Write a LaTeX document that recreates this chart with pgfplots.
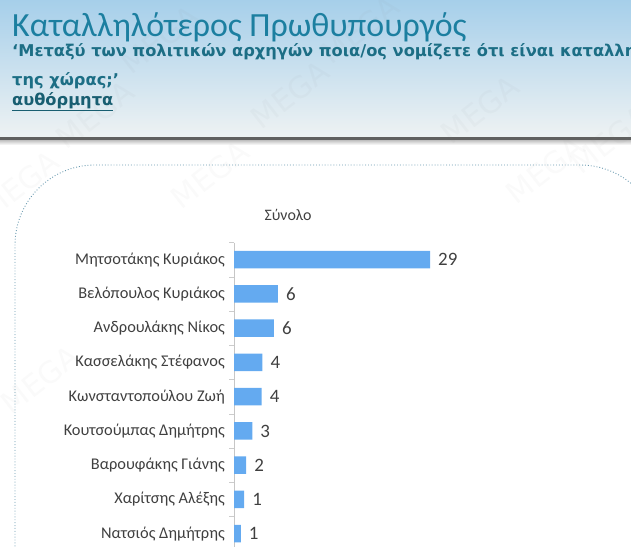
\documentclass[border=0pt]{standalone}
\usepackage{fontspec}
\setmainfont{Carlito}
\newfontfamily\verd{DejaVu Sans}
\usepackage{pgfplots}
\pgfplotsset{compat=1.18}
\definecolor{barblue}{HTML}{64AAF0}
\definecolor{titleteal}{HTML}{1C7FA0}
\definecolor{subteal}{HTML}{1C6E85}
\definecolor{hdrtop}{HTML}{A6CFEA}
\definecolor{hdrbot}{HTML}{EEF2F3}
\definecolor{borderc}{HTML}{6A9AB0}
\definecolor{lbl}{HTML}{404040}
\begin{document}
\begin{tikzpicture}[x=1bp,y=1bp]
\useasboundingbox (0,0) rectangle (631,547);
\coordinate (A) at (234,-3.8);
\begin{scope}
\clip (0,0) rectangle (631,547);
% header
\shade[top color=hdrtop, bottom color=hdrbot] (0,547) rectangle (631,410);
\fill[gray!75!black] (0,410) rectangle (631,406.5);
\shade[top color=gray!45, bottom color=white] (0,406.5) rectangle (631,402);
% watermarks
\foreach \px/\py in {95/115, 290/95, 480/110, 610/140, 20/185, 210/175, 545/170, 40/380, 160/40, 360/30}
  \node[rotate=38, text=gray, opacity=0.045, font=\verd\fontsize{30}{30}\selectfont] at (\px,547-\py) {MEGA};
% titles
\node[anchor=base west, inner sep=0pt, text=titleteal, font=\fontsize{34}{34}\selectfont] at (12,547-37) {Καταλληλότερος Πρωθυπουργός};
\node[anchor=base west, inner sep=0pt, text=subteal, font=\verd\bfseries\fontsize{16.3}{16.3}\selectfont] at (12,547-57) {‘Μεταξύ των πολιτικών αρχηγών ποια/ος νομίζετε ότι είναι καταλληλότερος για πρωθυπουργός};
\node[anchor=base west, inner sep=0pt, text=subteal, font=\verd\bfseries\fontsize{16.3}{16.3}\selectfont] at (12,547-86) {της χώρας;’};
\node[anchor=base west, inner sep=0pt, text=subteal!85!black, font=\verd\bfseries\fontsize{16.3}{16.3}\selectfont] (au) at (12,547-106) {αυθόρμητα};
\draw[subteal!85!black, line width=1bp] ([yshift=-4.5bp]au.base west) -- ([yshift=-4.5bp]au.base east);
% dotted border
\draw[dotted, borderc, line width=0.9bp, rounded corners=80bp] (15,-60) -- (15,382) -- (660,382) -- (660,-60);
\end{scope}
\node[font=\fontsize{16}{16}\selectfont, text=lbl] at (288,547-215) {Σύνολο};
\begin{axis}[
  at={(A)}, anchor=south west,
  scale only axis, width=338bp, height=308.25bp,
  xmin=0, xmax=50, ymin=-0.5, ymax=8.5, y dir=reverse,
  xbar, bar width=17.5bp,
  axis x line=none, axis y line=left,
  y axis line style={-, draw=gray!45},
  ytick={0,...,8},
  yticklabels={Μητσοτάκης Κυριάκος, Βελόπουλος Κυριάκος, Ανδρουλάκης Νίκος, Κασσελάκης Στέφανος, Κωνσταντοπούλου Ζωή, Κουτσούμπας Δημήτρης, Βαρουφάκης Γιάνης, Χαρίτσης Αλέξης, Νατσιός Δημήτρης},
  major tick length=0pt,
  minor ytick={-0.5,0.5,...,8.5},
  minor tick length=5bp, tick align=outside,
  minor tick style={draw=gray!40},
  yticklabel style={font=\fontsize{16.4}{16.4}\selectfont, text=lbl, inner sep=0pt, xshift=-9bp},
  clip=false,
  point meta=explicit symbolic,
  nodes near coords,
  nodes near coords style={anchor=west, inner sep=0pt, xshift=8bp, font=\fontsize{19}{19}\selectfont, text=lbl},
]
\addplot[fill=barblue, draw=none] coordinates {
 (29,0) [29]
 (6.5,1) [6]
 (5.9,2) [6]
 (4.2,3) [4]
 (4.1,4) [4]
 (2.7,5) [3]
 (1.8,6) [2]
 (1.5,7) [1]
 (1.0,8) [1]
};
\end{axis}
\end{tikzpicture}
\end{document}
